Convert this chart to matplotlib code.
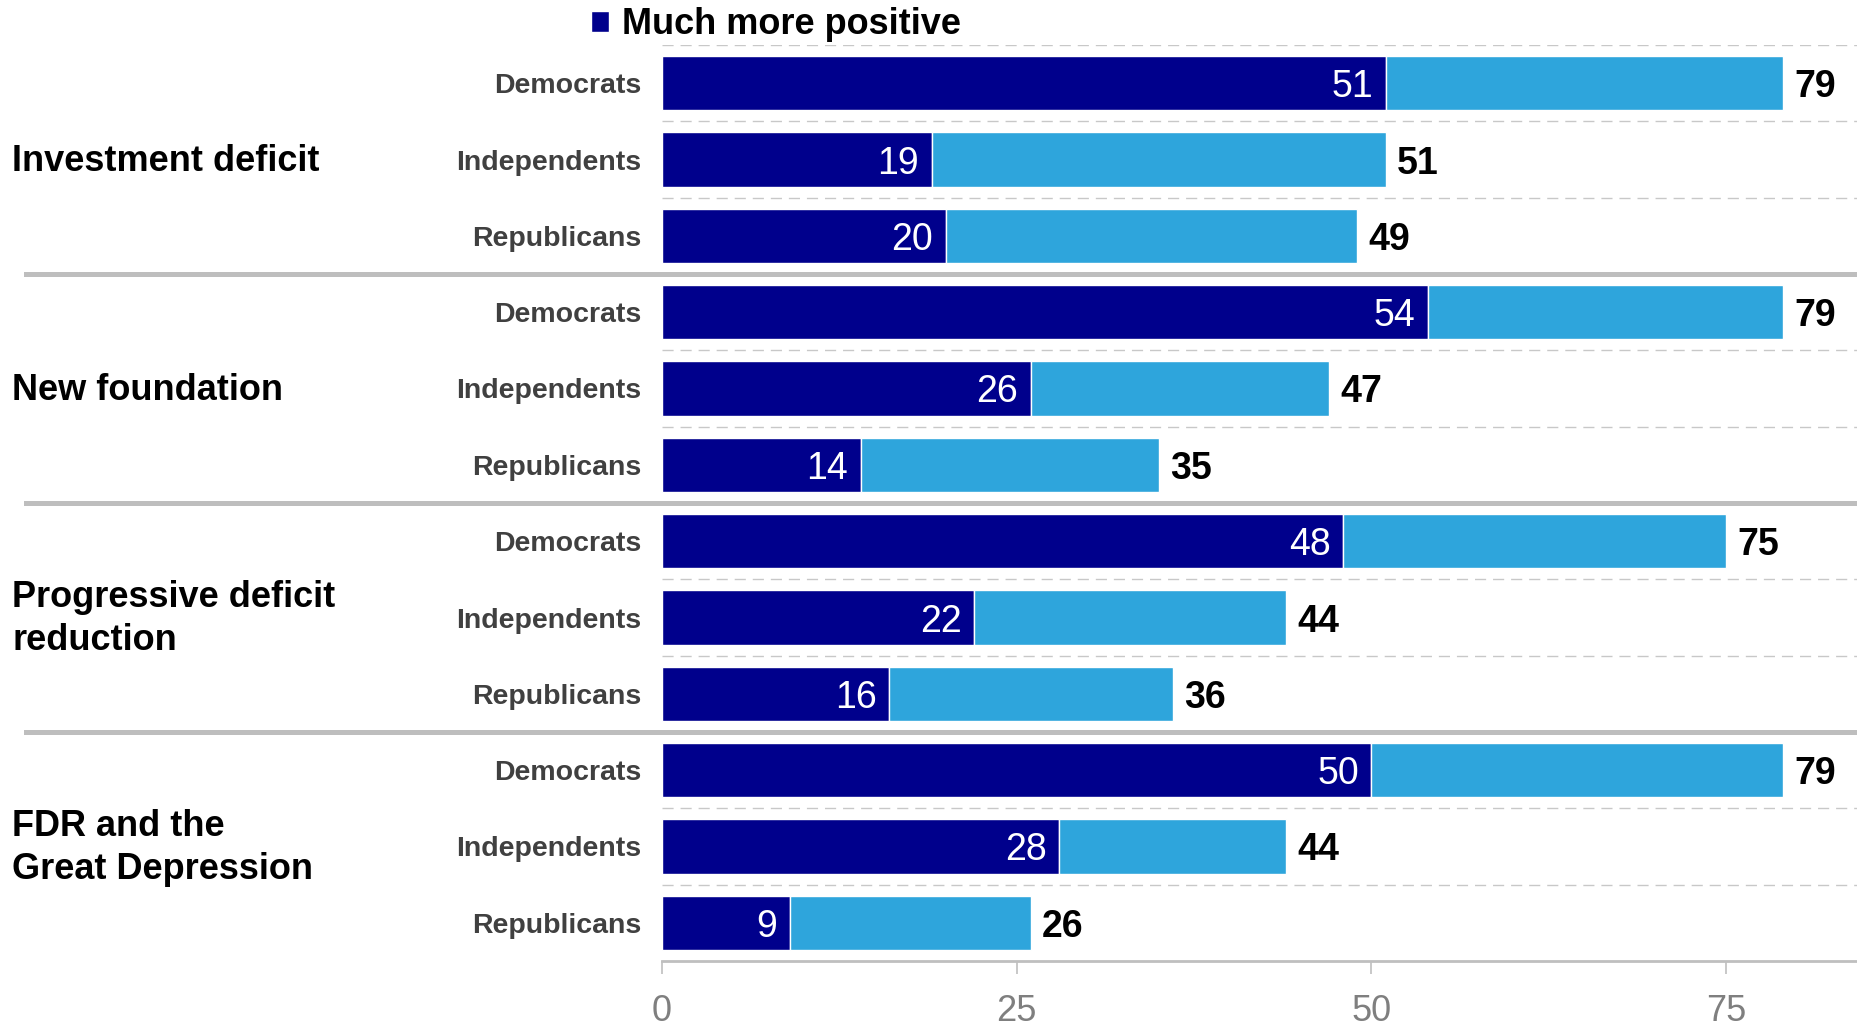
import matplotlib
matplotlib.use('Agg')
import matplotlib.pyplot as plt
import matplotlib.transforms as mtransforms
import numpy as np

plt.rcParams['font.family'] = ['Liberation Sans', 'DejaVu Sans']

groups   = ['Investment deficit', 'New foundation',
            'Progressive deficit\nreduction', 'FDR and the\nGreat Depression']
parties  = ['Democrats', 'Independents', 'Republicans']
muchMore = [51, 19, 20, 54, 26, 14, 48, 22, 16, 50, 28, 9]
total    = [79, 51, 49, 79, 47, 35, 75, 44, 36, 79, 44, 26]
xTicks   = [0, 25, 50, 75]

darkBlue  = '#00008C'
lightBlue = '#2EA5DC'

fig = plt.figure(figsize=(18.58, 10.29), dpi=100)
ax  = fig.add_axes([662/1858, 1 - 961/1029, 1 - 662/1858, (961 - 45)/1029])

rows   = np.arange(len(total))
rest   = np.array(total) - np.array(muchMore)
height = 0.71

# dashed guides between rows, solid separators between groups
for y in np.arange(-0.5, len(total) - 1, 1.0):
    if y in (2.5, 5.5, 8.5):
        continue
    ax.axhline(y, color='#C8C8C8', lw=1.0, ls=(0, (8, 5)), zorder=0)

sepTrans = mtransforms.blended_transform_factory(fig.transFigure, ax.transData)
for y in (2.5, 5.5, 8.5):
    ax.plot([0.014, 1.0], [y, y], color='#BEBEBE', lw=3.6,
            transform=sepTrans, clip_on=False, zorder=1)

dark = ax.barh(rows, muchMore, height=height, color=darkBlue,
               edgecolor='white', lw=1, label='Much more positive', zorder=2)
ax.barh(rows, rest, left=muchMore, height=height, color=lightBlue,
        edgecolor='white', lw=1, zorder=2)

for r, m, t in zip(rows, muchMore, total):
    ax.annotate(str(m), (m, r), xytext=(-9, 0), textcoords='offset points',
                ha='right', va='center_baseline', color='white', fontsize=27)
    ax.annotate(str(t), (t, r), xytext=(8, 0), textcoords='offset points',
                ha='left', va='center_baseline', color='black', fontsize=27,
                fontweight='bold')

ax.set_ylim(len(total) - 0.5, -0.5)
ax.set_xlim(0, 84.3)
ax.set_yticks(rows)
ax.set_yticklabels(parties * len(groups), fontsize=20.5, fontweight='bold',
                   color='#404040')
ax.tick_params(axis='y', length=0, pad=15)
ax.set_xticks(xTicks)
ax.tick_params(axis='x', length=9, width=1.2, color='#BFBFBF', pad=15,
               labelsize=26, labelcolor='#7F7F7F')

for s in ['top', 'right', 'left']:
    ax.spines[s].set_visible(False)
ax.spines['bottom'].set_color('#BFBFBF')
ax.spines['bottom'].set_linewidth(2)

for i, g in enumerate(groups):
    t = fig.text(0.0065, 0, g, fontsize=26, fontweight='bold',
                 ha='left', va='center', linespacing=1.28)
    t.set_transform(sepTrans)
    t.set_position((0.0065, 3 * i + 1 + 0.02))

fig.legend(handles=[dark], loc='center left', bbox_to_anchor=(591/1858, 1 - 25/1029),
           frameon=False, handlelength=0.5, handleheight=0.5,
           handletextpad=0.36, borderaxespad=0, borderpad=0,
           prop={'weight': 'bold', 'size': 26})

fig.savefig('out.png', dpi=100)
